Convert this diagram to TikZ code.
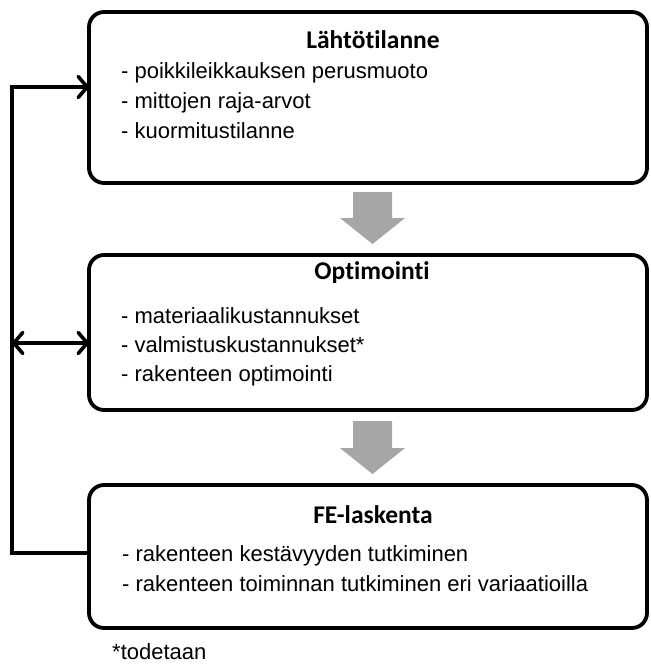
\documentclass[tikz,border=0pt]{standalone}
\usepackage{fontspec}
\setmainfont{Liberation Sans}
\newfontfamily\titlefont{Carlito}[Ligatures=NoCommon]
\usetikzlibrary{arrows.meta,calc}
\definecolor{arrowgray}{RGB}{166,166,166}
\begin{document}
\begin{tikzpicture}[x=1pt,y=-1pt,
  >={Straight Barb[length=9pt,width=21pt,round]},
  box/.style={draw, line width=3.8pt, rounded corners=15pt, minimum width=558pt,
    anchor=north west, inner sep=0pt, outer sep=0pt},
  ttl/.style={font=\titlefont\bfseries\fontsize{25.5}{30}\selectfont, anchor=base, inner sep=0pt},
  item/.style={font=\fontsize{22}{27}\selectfont, anchor=base west, inner sep=0pt},
  conn/.style={line width=3.6pt, line join=miter},
  garrow/.style={fill=arrowgray}]

\useasboundingbox (0,0) rectangle (651,665);

% boxes
\node[box, minimum height=171pt] (b1) at (89,12) {};
\node[box, minimum height=155pt] (b2) at (89,255) {};
\node[box, minimum height=143pt] (b3) at (89,485) {};

% titles
\node[ttl] (t1) at (373,48) {Lähtötilanne};
\node[ttl] (t2) at (372,279) {Optimointi};
\node[ttl] (t3) at (373,523) {FE-laskenta};

% items
\node[item] (i11) at (121,78) {- poikkileikkauksen perusmuoto};
\node[item] (i12) at (121,108) {- mittojen raja-arvot};
\node[item] (i13) at (121,138) {- kuormitustilanne};

\node[item] (i21) at (121,323) {- materiaalikustannukset};
\node[item] (i22) at (121,352) {- valmistuskustannukset*};
\node[item] (i23) at (121,381) {- rakenteen optimointi};

\node[item] (i31) at (122,561) {- rakenteen kestävyyden tutkiminen};
\node[item] (i32) at (122,591) {- rakenteen toiminnan tutkiminen eri variaatioilla};

\node[item] (note) at (112,659) {*todetaan};

% gray block arrows
\coordinate (g1) at ($(b1.south)+(4.5,9)$);
\coordinate (g2) at ($(b2.south)+(4.5,11)$);
\fill[garrow] (g1) ++(-19.5,0) -- ++(39,0) -- ++(0,26) -- ++(13,0) -- ++(-32.5,26)
  -- ++(-32.5,-26) -- ++(13,0) -- cycle;
\fill[garrow] (g2) ++(-19.5,0) -- ++(39,0) -- ++(0,27) -- ++(13,0) -- ++(-32.5,26)
  -- ++(-32.5,-26) -- ++(13,0) -- cycle;

% feedback connectors
\coordinate (L) at (12,553);
\coordinate (m2) at ([yshift=-10.5pt]b2.west);
\draw[conn,->] ([yshift=3.5pt]b3.west) -- (L) |- ([yshift=10.5pt]b1.west);
\draw[conn,<->] (L |- m2) -- (m2);
\end{tikzpicture}
\end{document}
